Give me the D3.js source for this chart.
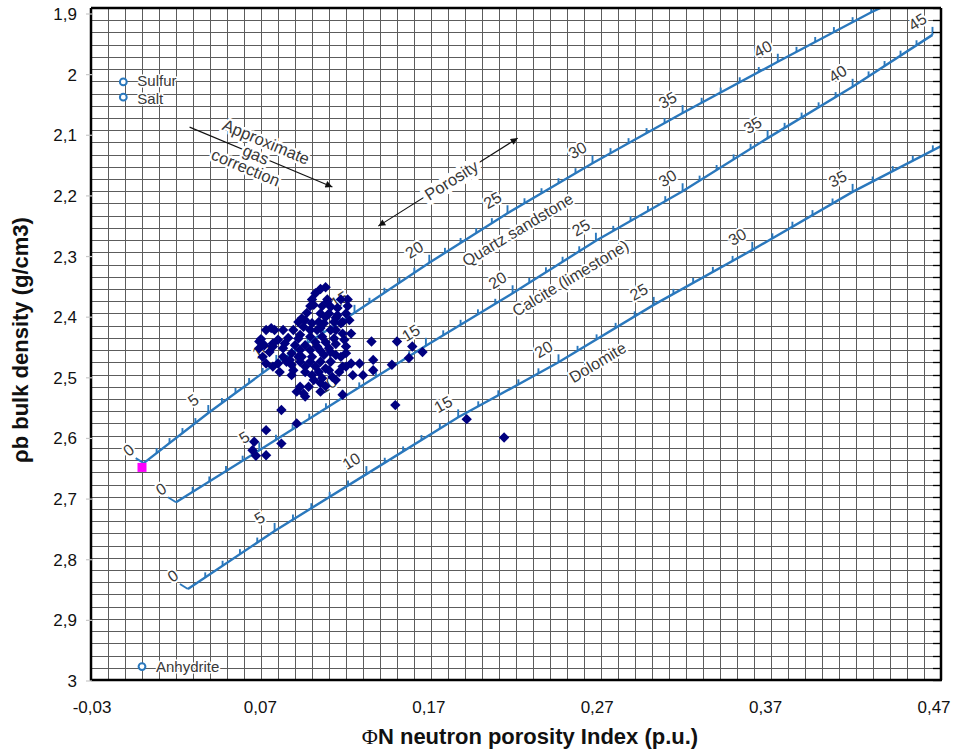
<!DOCTYPE html>
<html><head><meta charset="utf-8">
<script src="https://cdn.jsdelivr.net/npm/d3@7"></script>
<style>
body{margin:0;background:#fff;}
svg{display:block;font-family:Arial,"Liberation Sans",sans-serif;}
</style></head><body>
<svg id="chart" width="956" height="755"></svg>
<script>
// ---------- data ----------
const xTicks = [-0.03, 0.07, 0.17, 0.27, 0.37, 0.47];
const xTickLabels = ["-0,03", "0,07", "0,17", "0,27", "0,37", "0,47"];
const yTicks = [1.9, 2.0, 2.1, 2.2, 2.3, 2.4, 2.5, 2.6, 2.7, 2.8, 2.9, 3.0];
const yTickLabels = ["1,9", "2", "2,1", "2,2", "2,3", "2,4", "2,5", "2,6", "2,7", "2,8", "2,9", "3"];

// lithology lines: [porosity (p.u.), neutron porosity, bulk density]
const sandstone = [
  [0, 0.001, 2.645], [5, 0.039, 2.563], [10, 0.079, 2.481], [15, 0.125, 2.399],
  [20, 0.169, 2.317], [25, 0.215, 2.236], [30, 0.265, 2.154], [35, 0.318, 2.072],
  [40, 0.374, 1.988], [45, 0.429, 1.907]
];
const sandstoneEnd = [0.435, 1.899];
const limestone = [
  [0, 0.020, 2.709], [5, 0.069, 2.624], [10, 0.118, 2.538], [15, 0.167, 2.453],
  [20, 0.218, 2.367], [25, 0.267, 2.281], [30, 0.318, 2.200], [35, 0.368, 2.113],
  [40, 0.418, 2.029], [45, 0.465, 1.944]
];
const dolomite = [
  [0, 0.027, 2.851], [5, 0.078, 2.756], [10, 0.132, 2.663], [15, 0.186, 2.570],
  [20, 0.245, 2.480], [25, 0.301, 2.386], [30, 0.359, 2.296], [35, 0.418, 2.201],
  [40, 0.477, 2.116]
];
const lithoNames = ["Quartz sandstone", "Calcite (limestone)", "Dolomite"];
const lithoNamePos = [[0.221, 2.263], [0.252, 2.342], [0.268, 2.480]];

// minerals
const minerals = ["Sulfur", "Salt", "Anhydrite"];
const mineralPhiN = [-0.011, -0.011, 0.000];
const mineralRhob = [2.021, 2.046, 2.978];

// quartz matrix point
const quartzPoint = [0.000, 2.652];

// annotations
const porosityArrow = [[0.139, 2.257], [0.221, 2.113]];
const porosityLabelPos = [0.182, 2.182];
const gasArrow = [[0.028, 2.095], [0.112, 2.193]];
const gasLabel = ["Approximate", "gas", "correction"];
const gasLabelPos = [[0.073, 2.119], [0.067, 2.140], [0.061, 2.161]];

// sample points [neutron porosity, bulk density]
const samples = [
  [0.108,2.357],[0.105,2.360],[0.102,2.367],[0.109,2.377],[0.100,2.377],[0.117,2.377],[0.121,2.377],
  [0.099,2.388],[0.106,2.388],[0.111,2.389],[0.121,2.388],[0.120,2.400],[0.097,2.399],[0.105,2.400],
  [0.110,2.400],[0.115,2.403],[0.076,2.424],[0.073,2.427],[0.078,2.427],[0.083,2.427],[0.092,2.414],
  [0.089,2.427],[0.095,2.422],[0.100,2.416],[0.107,2.416],[0.113,2.414],[0.117,2.416],[0.111,2.427],
  [0.103,2.427],[0.118,2.433],[0.123,2.433],[0.135,2.446],[0.070,2.442],[0.069,2.446],[0.077,2.449],
  [0.092,2.441],[0.099,2.438],[0.106,2.438],[0.113,2.441],[0.119,2.443],[0.083,2.457],[0.088,2.465],
  [0.096,2.452],[0.103,2.454],[0.110,2.457],[0.120,2.454],[0.120,2.465],[0.071,2.471],[0.073,2.482],
  [0.077,2.487],[0.080,2.482],[0.087,2.476],[0.094,2.471],[0.100,2.471],[0.107,2.468],[0.117,2.471],
  [0.123,2.482],[0.120,2.487],[0.128,2.482],[0.136,2.476],[0.089,2.493],[0.096,2.487],[0.102,2.487],
  [0.110,2.493],[0.088,2.501],[0.100,2.501],[0.106,2.506],[0.112,2.504],[0.093,2.520],[0.098,2.520],
  [0.095,2.531],[0.091,2.528],[0.105,2.514],[0.105,2.528],[0.118,2.533],[0.130,2.501],[0.136,2.493],
  [0.109,2.381],[0.077,2.454],[0.122,2.411],[0.150,2.446],[0.159,2.454],[0.165,2.463],[0.157,2.473],
  [0.147,2.484],[0.124,2.501],[0.118,2.487],[0.114,2.509],[0.096,2.536],[0.082,2.558],[0.091,2.580],
  [0.073,2.591],[0.082,2.613],[0.066,2.610],[0.065,2.624],[0.067,2.633],[0.073,2.632],[0.149,2.550],
  [0.191,2.573],[0.213,2.603],
  [0.096,2.411],[0.108,2.406],[0.114,2.407],[0.099,2.427],[0.105,2.424],[0.093,2.435],[0.102,2.447],
  [0.108,2.447],[0.114,2.450],[0.093,2.460],[0.099,2.460],[0.105,2.461],[0.111,2.463],[0.093,2.479],
  [0.099,2.479],[0.105,2.479],[0.111,2.479],[0.096,2.496],[0.104,2.496],[0.090,2.452],[0.086,2.440],
  [0.083,2.471],[0.088,2.484],[0.116,2.496],[0.108,2.519],[0.072,2.452],[0.075,2.463],[0.080,2.443],
  [0.084,2.449],[0.069,2.457],
  [0.094,2.408],[0.104,2.414],[0.114,2.427],[0.092,2.471],[0.108,2.490],[0.101,2.509],[0.114,2.468],
  [0.118,2.414],[0.101,2.386],[0.115,2.391],[0.081,2.496],[0.085,2.479]
];

// ---------- drawing ----------
const W = 956, H = 755;
const M = {left: 91, right: 941, top: 8, bottom: 680};
const x = d3.scaleLinear().domain([-0.03, 0.47]).range([M.left, M.right]);
const y = d3.scaleLinear().domain([1.9, 3.0]).range([M.top, M.bottom]);
// tick-label placement (axis labels sit slightly off the grid, as in the original)
const xLab = d3.scaleLinear().domain([-0.03, 0.47]).range([92, 934]);
const yLab = d3.scaleLinear().domain([1.9, 3.0]).range([14, 681]);

const svg = d3.select("#chart");
const defs = svg.append("defs");
defs.append("clipPath").attr("id", "plotClip").append("rect")
  .attr("x", M.left).attr("y", M.top).attr("width", M.right - M.left).attr("height", M.bottom - M.top);
defs.append("marker").attr("id", "arrow").attr("viewBox", "0 0 10 10")
  .attr("refX", 10).attr("refY", 5).attr("markerWidth", 10).attr("markerHeight", 7)
  .attr("markerUnits", "userSpaceOnUse").attr("orient", "auto-start-reverse")
  .append("path").attr("d", "M0,0L10,5L0,10Z").attr("fill", "#111");

svg.append("rect").attr("width", W).attr("height", H).attr("fill", "#fff");

// grid
const gridX = d3.range(0, 51).map(i => +(xTicks[0] + i * 0.01).toFixed(2));
const gridY = d3.range(0, 56).map(i => +(yTicks[0] + i * 0.02).toFixed(2));
const grid = svg.append("g").attr("stroke", "#5c5c5c").attr("stroke-width", 1).attr("shape-rendering", "crispEdges");
grid.selectAll("line.gx").data(gridX).join("line").attr("class", "gx")
  .attr("x1", d => Math.round(x(d)) + 0.5).attr("x2", d => Math.round(x(d)) + 0.5)
  .attr("y1", M.top).attr("y2", M.bottom);
grid.selectAll("line.gy").data(gridY).join("line").attr("class", "gy")
  .attr("y1", d => Math.round(y(d)) + 0.5).attr("y2", d => Math.round(y(d)) + 0.5)
  .attr("x1", M.left).attr("x2", M.right);

const plot = svg.append("g").attr("clip-path", "url(#plotClip)");
const lineColor = "#2a78bd";
const textColor = "#383838";

function halo(sel) {
  return sel.attr("stroke", "#fff").attr("stroke-width", 4).attr("stroke-linejoin", "round")
    .attr("paint-order", "stroke");
}

const lithos = [
  {ticks: sandstone, end: sandstoneEnd},
  {ticks: limestone, end: null},
  {ticks: dolomite, end: null}
];

lithos.forEach(L => {
  const pts = L.ticks.map(t => [x(t[1]), y(t[2])]);
  const linePts = L.end ? pts.concat([[x(L.end[0]), y(L.end[1])]]) : pts;
  plot.append("path").attr("d", d3.line()(linePts)).attr("fill", "none")
    .attr("stroke", lineColor).attr("stroke-width", 2.4);
  const g = plot.append("g").attr("stroke", lineColor).attr("stroke-width", 1.9);
  // zero stub
  g.append("line").attr("x1", pts[0][0]).attr("y1", pts[0][1])
    .attr("x2", pts[0][0] - 8).attr("y2", pts[0][1] - 5);
  // major ticks
  pts.forEach((p, i) => {
    if (i === 0) return;
    g.append("line").attr("x1", p[0]).attr("y1", p[1]).attr("x2", p[0]).attr("y2", p[1] - 8);
  });
  // minor ticks
  for (let i = 0; i < pts.length - 1; i++) {
    const a = pts[i], b = pts[i + 1];
    for (let k = 1; k < 5; k++) {
      const px = a[0] + (b[0] - a[0]) * k / 5, py = a[1] + (b[1] - a[1]) * k / 5;
      g.append("line").attr("x1", px).attr("y1", py).attr("x2", px).attr("y2", py - 5);
    }
  }
  // porosity labels (only for ticks well inside the plot)
  pts.forEach((p, i) => {
    if (p[0] > M.right - 4 || p[1] < M.top + 10) return;
    const j = Math.min(i, pts.length - 2);
    const ang = Math.atan2(pts[j + 1][1] - pts[j][1], pts[j + 1][0] - pts[j][0]) * 180 / Math.PI;
    const lx = p[0] - 15, ly = p[1] - 13;
    halo(plot.append("text")).attr("transform", `translate(${lx},${ly}) rotate(${ang})`)
      .attr("text-anchor", "middle").attr("dy", "0.35em")
      .attr("font-size", 16).attr("fill", textColor).text(L.ticks[i][0]);
  });
});

// lithology names
lithoNames.forEach((n, i) => {
  halo(plot.append("text"))
    .attr("transform", `translate(${x(lithoNamePos[i][0])},${y(lithoNamePos[i][1])}) rotate(-31)`)
    .attr("text-anchor", "middle").attr("dy", "0.35em").attr("font-size", 16)
    .attr("fill", textColor).text(n);
});

// porosity arrow
plot.append("line")
  .attr("x1", x(porosityArrow[0][0])).attr("y1", y(porosityArrow[0][1]))
  .attr("x2", x(porosityArrow[1][0])).attr("y2", y(porosityArrow[1][1]))
  .attr("stroke", "#111").attr("stroke-width", 1.1)
  .attr("marker-start", "url(#arrow)").attr("marker-end", "url(#arrow)");
{
  const a = Math.atan2(y(porosityArrow[1][1]) - y(porosityArrow[0][1]), x(porosityArrow[1][0]) - x(porosityArrow[0][0])) * 180 / Math.PI;
  halo(plot.append("text")).attr("stroke-width", 9)
    .attr("transform", `translate(${x(porosityLabelPos[0])},${y(porosityLabelPos[1])}) rotate(${a})`)
    .attr("text-anchor", "middle").attr("dy", "0.35em").attr("font-size", 16.5)
    .attr("fill", textColor).text("Porosity");
}

// gas correction arrow
plot.append("line")
  .attr("x1", x(gasArrow[0][0])).attr("y1", y(gasArrow[0][1]))
  .attr("x2", x(gasArrow[1][0])).attr("y2", y(gasArrow[1][1]))
  .attr("stroke", "#111").attr("stroke-width", 1.1)
  .attr("marker-end", "url(#arrow)");
{
  const a = Math.atan2(y(gasArrow[1][1]) - y(gasArrow[0][1]), x(gasArrow[1][0]) - x(gasArrow[0][0])) * 180 / Math.PI;
  gasLabel.forEach((t, i) => {
    halo(plot.append("text")).attr("stroke-width", 5)
      .attr("transform", `translate(${x(gasLabelPos[i][0])},${y(gasLabelPos[i][1])}) rotate(${a})`)
      .attr("text-anchor", "middle").attr("dy", "0.35em").attr("font-size", 16.5)
      .attr("fill", textColor).text(t);
  });
}

// minerals (labels nudged apart slightly so Sulfur/Salt do not collide)
const mineralNudge = [-1, 1.5, 0];
minerals.forEach((m, i) => {
  halo(plot.append("text")).attr("stroke-width", 3).attr("x", x(mineralPhiN[i]) + 14).attr("y", y(mineralRhob[i]) + mineralNudge[i])
    .attr("dy", "0.35em").attr("font-size", 15).attr("fill", textColor).text(m);
  plot.append("circle").attr("cx", x(mineralPhiN[i])).attr("cy", y(mineralRhob[i])).attr("r", 3.4)
    .attr("fill", "#fff").attr("stroke", "#2a78bd").attr("stroke-width", 2);
});

// samples
plot.append("g").selectAll("path").data(samples).join("path")
  .attr("transform", d => `translate(${x(d[0])},${y(d[1])})`)
  .attr("d", "M0,-5.2L5.2,0L0,5.2L-5.2,0Z")
  .attr("fill", "#000080");

// quartz point
plot.append("rect").attr("x", x(quartzPoint[0]) - 4.5).attr("y", y(quartzPoint[1]) - 4.5)
  .attr("width", 9).attr("height", 9).attr("fill", "#ff00ff");

// frame / axes
const frame = svg.append("g").attr("stroke", "#000");
frame.append("line").attr("x1", M.left).attr("x2", M.right).attr("y1", M.top).attr("y2", M.top).attr("stroke-width", 2.5);
frame.append("line").attr("x1", M.right).attr("x2", M.right).attr("y1", M.top).attr("y2", M.bottom).attr("stroke-width", 2.5);
frame.append("line").attr("x1", M.left).attr("x2", M.left).attr("y1", M.top).attr("y2", M.bottom + 1).attr("stroke-width", 2.5);
frame.append("line").attr("x1", M.left).attr("x2", M.right + 1).attr("y1", M.bottom).attr("y2", M.bottom).attr("stroke-width", 2.5);
frame.selectAll("line.rt").data(gridY).join("line").attr("class", "rt")
  .attr("x1", M.right - 8).attr("x2", M.right).attr("y1", d => Math.round(y(d)) + 0.5).attr("y2", d => Math.round(y(d)) + 0.5)
  .attr("stroke-width", 1.3);
frame.selectAll("line.lt").data(yTicks).join("line").attr("class", "lt")
  .attr("x1", M.left - 5).attr("x2", M.left + 1).attr("y1", d => yLab(d)).attr("y2", d => yLab(d))
  .attr("stroke", "#c8c8c8").attr("stroke-width", 1.2);

// tick labels
svg.append("g").selectAll("text").data(yTicks).join("text")
  .attr("x", 77).attr("y", d => yLab(d) + 6).attr("text-anchor", "end")
  .attr("font-size", 17).attr("fill", "#111").text((d, i) => yTickLabels[i]);
svg.append("g").selectAll("text").data(xTicks).join("text")
  .attr("x", d => xLab(d)).attr("y", 713).attr("text-anchor", "middle")
  .attr("font-size", 17).attr("fill", "#111").text((d, i) => xTickLabels[i]);

// axis titles
const xt = svg.append("text").attr("x", 530).attr("y", 744).attr("text-anchor", "middle")
  .attr("font-size", 22).attr("font-weight", "bold").attr("fill", "#111");
xt.append("tspan").attr("font-family", "'Liberation Serif','DejaVu Serif',serif").attr("font-weight", "normal").text("Φ");
xt.append("tspan").text("N neutron porosity Index (p.u.)");
svg.append("text").attr("transform", "translate(28,340) rotate(-90)").attr("text-anchor", "middle")
  .attr("font-size", 22).attr("font-weight", "bold").attr("fill", "#111")
  .text("ρb bulk density (g/cm3)");
</script>
</body></html>
